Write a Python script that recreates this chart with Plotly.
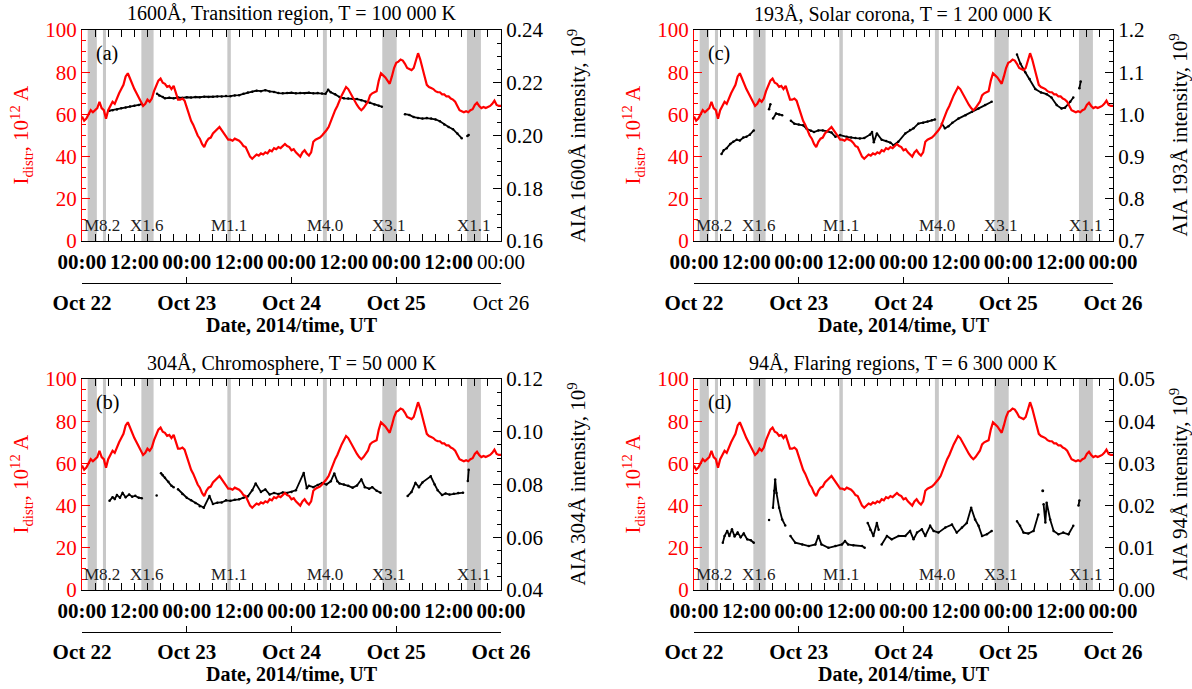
import plotly.graph_objects as go

# ---------------- data ----------------
hours = [i / 2 for i in range(193)]  # half-hour grid, hours since 2014-10-22 00:00 UT
i_distr = [59, 57, 58, 60, 62, 61, 62, 63, 66, 63,
           62, 58, 62, 64, 66, 65, 68, 70, 72, 74,
           78, 79.5, 77, 74, 72, 70, 68, 66, 64, 65,
           67, 66, 67.5, 71, 74, 76, 77, 75, 74.5, 73,
           73.5, 72, 73.5, 70, 67, 67, 67.5, 66.5, 63, 60,
           57, 55, 52, 50, 48.5, 46, 44.5, 47, 48.5, 49,
           51, 52, 53, 54, 52.5, 51, 49, 48, 48, 47.5,
           48.5, 48, 47.5, 46.5, 45, 44.5, 42, 40, 39, 40,
           41, 40.5, 41.5, 41, 42, 41.5, 43, 42.5, 44, 43.5,
           44.5, 44, 45, 46, 45, 44.5, 43, 43.5, 42, 41,
           40, 42, 43, 41.5, 40.5, 42, 47, 48, 48.5, 49,
           50, 51, 52.5, 54, 57, 59.5, 62, 64, 67, 69,
           71, 73, 72, 70, 68, 66, 64.5, 63, 62, 63,
           64.5, 66, 69, 70, 70.5, 71, 76, 79.5, 78.5, 77.5,
           76, 74.5, 78, 82, 84.5, 85, 86, 85.5, 84, 82,
           81.5, 81, 82, 86, 89, 86, 82.5, 78, 74, 73,
           72.5, 72, 71, 70.5, 70.5, 69.5, 69.5, 68.5, 68.5, 67.5,
           67, 66, 64, 62, 61.5, 61, 61.5, 61, 62, 62.5,
           64.5, 65.5, 64, 63, 63.5, 63, 63.5, 64, 65, 66.5,
           64.5, 64, 64]

t_1600 = [6.3, 7, 8, 9, 10, 11, 12, 13, 13.7, 15, 17.2, 17.7, 18.5, 19, 20, 21, 22, 23, 24, 25,
          26, 27, 28, 29, 30, 31, 32, 33, 34, 35, 36, 37, 38, 39, 40, 41, 42, 43, 44, 45,
          46, 47, 48, 49, 50, 51, 52, 53, 54, 55, 55.8, 56.4, 57, 58, 59, 60, 61, 62, 63, 64,
          65, 66, 67, 68, 68.7, 71, 74, 75, 76, 77, 78, 79, 80, 81, 82, 83, 84, 85, 86, 87,
          87.8, 88.3, 88.6]
v_1600 = [0.2094, 0.2096, 0.2099, 0.2103, 0.2106, 0.2110, 0.2113, 0.2116, 0.2119, None,
          0.2158, 0.2152, 0.2146, 0.2141, 0.2143, 0.2141, 0.2144, 0.2143, 0.2145, 0.2144,
          0.2146, 0.2145, 0.2147, 0.2146, 0.2147, 0.2148, 0.2148, 0.2150, 0.2149, 0.2152,
          0.2153, 0.2158, 0.2163, 0.2166, 0.2170, 0.2168, 0.2172, 0.2167, 0.2165, 0.2161,
          0.2160, 0.2161, 0.2162, 0.2160, 0.2161, 0.2160, 0.2162, 0.2160, 0.2161, 0.2159,
          0.2158, 0.2173, 0.2164, 0.2156, 0.2146, 0.2141, 0.2140, 0.2139, 0.2138, 0.2134,
          0.2128, 0.2124, 0.2118, 0.2113, 0.2109, None, 0.2081, 0.2078, 0.2070, 0.2066,
          0.2064, 0.2066, 0.2064, 0.2061, 0.2054, 0.2042, 0.2032, 0.2024, 0.2008, 0.1990,
          None, 0.1998, 0.2002]

t_304 = [6.3, 7, 7.5, 8, 8.7, 9.3, 10, 10.8, 11.5, 12.2, 13, 13.7, 15, 17.1, 17.5, 18.1, 18.5,
         19, 19.8, 20.5, 21, 21.5, 22, 23, 24, 25, 26, 27, 27.9, 29.2, 30, 31, 32, 33, 34, 35,
         36, 37, 38, 39, 39.8, 41, 42, 43, 44, 45, 46, 47, 48, 49, 50.8, 51.5, 52, 53, 54,
         55, 56, 57, 57.8, 58.5, 59, 60, 61, 62, 63, 64, 64.8, 65.8, 66.5, 67.5, 68.4, 71,
         74.6, 75.5, 76.4, 77.2, 78, 79.9, 80.8, 81.5, 82.5, 83.3, 84.2, 85.2, 86.2, 87.3,
         87.9, 88.4, 88.6]
v_304 = [0.0738, 0.0752, 0.0745, 0.0760, 0.0750, 0.0768, 0.0752, 0.0762, 0.0754, 0.0757,
         0.0750, 0.0748, None, 0.0758, None, 0.0843, 0.0835, 0.0826, 0.0810, 0.0795,
         0.0790, None, 0.0782, 0.0764, 0.0750, 0.0740, 0.0730, 0.0718, 0.0712, 0.0756,
         0.0726, 0.0731, 0.0732, 0.0740, 0.0738, 0.0742, 0.0744, 0.0750, 0.0755, 0.0778,
         0.0804, 0.0772, 0.0781, 0.0762, 0.0768, 0.0764, 0.0770, 0.0768, 0.0772, 0.0778,
         0.0844, 0.0786, 0.0795, 0.0790, 0.0798, 0.0806, 0.0800, 0.0812, 0.0842, 0.0812,
         0.0804, 0.0800, 0.0795, 0.0788, 0.0796, 0.0819, 0.0790, 0.0784, 0.0790, 0.0776,
         0.0769, None, 0.0756, 0.0772, 0.0806, 0.0790, 0.0808, 0.0831, 0.0800, 0.0778,
         0.0760, 0.0766, 0.0762, 0.0765, 0.0768, 0.0769, None, 0.0813, 0.0856]

t_193 = [6.3, 6.8, 7.5, 8.3, 9, 9.8, 10.5, 11.3, 12, 12.8, 13.7, 15, 17.2, 17.5, 17.8, 18.1,
         18.8, 19.5, 20.2, 21, 22.2, 23, 24, 25, 25.8, 26.8, 27.5, 28.5, 29.5, 30.5, 31.5,
         32.4, 33.5, 35, 36, 37, 38, 39, 40.3, 40.8, 41.2, 41.9, 43, 44, 45, 45.7, 46.8, 48.4,
         49.5, 50.3, 51.4, 52.5, 53.5, 54.5, 55.2, 56, 56.8, 57.5, 58.3, 59.2, 60.6, 62.2,
         63.7, 65.2, 66.7, 68.2, 71, 74, 74.8, 75.9, 76.9, 78.2, 79.5, 80.8, 81.9, 83.1, 84.2,
         85, 86.2, 86.9, 87.5, 88.3, 88.6]
v_193 = [0.906, 0.915, 0.920, 0.930, 0.935, 0.940, 0.938, 0.945, 0.947, 0.952, 0.962, None,
         1.012, 1.024, None, 0.990, 1.002, 1.000, 0.998, None, 0.985, 0.978, 0.976, 0.974,
         0.966, 0.961, 0.958, 0.962, 0.962, 0.960, 0.957, 0.947, 0.951, 0.947, 0.945, 0.944,
         0.943, 0.944, 0.952, 0.958, 0.934, 0.955, 0.940, 0.937, 0.933, 0.927, 0.935, 0.955,
         0.963, 0.967, 0.978, 0.980, 0.983, 0.986, 0.988, None, 0.978, 0.967, 0.972, 0.980,
         0.990, 0.998, 1.006, 1.014, 1.022, 1.030, None, 1.142, 1.120, 1.100, 1.084, 1.060,
         1.052, 1.048, 1.040, 1.022, 1.014, 1.016, 1.030, 1.040, None, 1.062, 1.078]

t_94 = [6.6, 7, 7.6, 8.1, 8.7, 9.3, 10, 10.7, 11.4, 12.2, 13, 13.7, 15, 17.2, 17.6, 18.1, 18.4,
        18.6, 18.9, 19.5, 20.2, 20.9, 21.5, 22.1, 23.2, 24.8, 26.3, 27.8, 28.5, 29.2, 30.8,
        32.4, 33.9, 34.6, 35.3, 36.5, 38.5, 39.1, 39.5, 39.8, 40.4, 41.1, 41.9, 42.3, 42.6,
        43, 44.2, 45.3, 46.9, 48.4, 49.5, 50.3, 51.1, 52.2, 53, 54.1, 54.9, 56, 57.6, 59.1,
        60.2, 61.4, 62.5, 63.5, 64.4, 65.2, 66, 67.1, 68.2, 71, 74, 74.7, 75.5, 76.6, 77.8,
        78.9, 79.6, 80.1, 80.5, 80.8, 81.6, 82.4, 83.5, 84.6, 85.8, 86.9, 87.5, 88.1, 88.3]
v_94 = [0.0112, 0.0128, 0.0140, 0.0128, 0.0144, 0.0127, 0.0136, 0.0125, 0.0134, 0.0120,
        0.0118, 0.0112, None, 0.0166, None, 0.0195, 0.0235, 0.0262, 0.0230, 0.0195, 0.0167,
        0.0153, None, 0.0128, 0.0112, 0.0108, 0.0104, 0.0108, 0.0128, 0.0108, 0.0100,
        0.0104, 0.0108, 0.0116, 0.0108, 0.0106, 0.0104, 0.0100, None, 0.0159, 0.0143,
        0.0128, 0.0159, 0.0143, None, 0.0108, 0.0128, 0.0120, 0.0128, 0.0128, 0.0140,
        0.0120, 0.0136, 0.0144, 0.0128, 0.0152, 0.0140, 0.0136, 0.0148, 0.0155, 0.0136,
        0.0148, 0.0159, 0.0195, 0.0167, 0.0152, 0.0128, 0.0132, 0.0140, None, 0.0163,
        0.0152, 0.0136, 0.0134, 0.0140, 0.0179, None, 0.0203, 0.0160, 0.0207, 0.0167,
        0.0140, 0.0132, 0.0136, 0.0132, 0.0152, None, 0.0200, 0.0212]
t_94_dot = [79.9]
v_94_dot = [0.0235]

flare_start = [1.3, 4.8, 13.6, 33.3, 55.2, 68.8, 88.2]
flare_end = [3.4, 5.5, 16.4, 34.1, 56.1, 72.1, 91.4]
flare_names = ["M8.2", "X1.6", "M1.1", "M4.0", "X3.1", "X1.1"]
flare_label_band = [0, 2, 3, 4, 5, 6]

tick_hours = [0, 12, 24, 36, 48, 60, 72, 84, 96]
tick_labels = ["00:00", "12:00", "00:00", "12:00", "00:00", "12:00", "00:00", "12:00", "00:00"]
day_hours = [0, 24, 48, 72, 96]
day_labels = ["Oct 22", "Oct 23", "Oct 24", "Oct 25", "Oct 26"]

# ---------------- layout helpers ----------------
FONT = "Liberation Serif"
WF, HF = 1192, 689
RED = "#ff0000"
BAND = "#c8c8c8"


def fx(px):
    return px / WF


def fy(py):
    return 1 - py / HF


def ax(letter, n):
    return letter if n == 1 else "%s%d" % (letter, n)


def lkey(letter, n):
    return letter + "axis" + ("" if n == 1 else str(n))


panels = [
    dict(letter="(a)", title="1600Å, Transition region, T = 100 000 K",
         ytitle="AIA 1600Å intensity, 10<sup>9</sup>", t=t_1600, v=v_1600, extra=None,
         yr=[0.16, 0.24], dtick=0.02, mdt=0.005, fmt=".2f",
         px=(82, 501), py=(30, 241), tx=577, last_plain=True),
    dict(letter="(c)", title="193Å, Solar corona, T = 1 200 000 K",
         ytitle="AIA 193Å intensity, 10<sup>9</sup>", t=t_193, v=v_193, extra=None,
         yr=[0.7, 1.2], dtick=0.1, mdt=0.025, fmt=".1f",
         px=(694, 1113), py=(30, 241), tx=1179, last_plain=False),
    dict(letter="(b)", title="304Å, Chromosphere, T = 50 000 K",
         ytitle="AIA 304Å intensity, 10<sup>9</sup>", t=t_304, v=v_304, extra=None,
         yr=[0.04, 0.12], dtick=0.02, mdt=0.005, fmt=".2f",
         px=(82, 501), py=(379, 590), tx=577, last_plain=False),
    dict(letter="(d)", title="94Å, Flaring regions, T = 6 300 000 K",
         ytitle="AIA 94Å intensity, 10<sup>9</sup>", t=t_94, v=v_94, extra=(t_94_dot, v_94_dot),
         yr=[0.0, 0.05], dtick=0.01, mdt=0.0025, fmt=".2f",
         px=(694, 1113), py=(379, 590), tx=1179, last_plain=False),
]

fig = go.Figure()
layout = dict(width=WF, height=HF, autosize=False,
              margin=dict(l=0, r=0, t=0, b=0, pad=0, autoexpand=False),
              paper_bgcolor="white", plot_bgcolor="white", showlegend=False,
              font=dict(family=FONT, color="black"))
shapes, annotations = [], []

for k, p in enumerate(panels, start=1):
    xa, ya = ax("x", k), ax("y", k)
    ya_red, xa_day = ax("y", k + 4), ax("x", k + 4)
    xd = [fx(p["px"][0]), fx(p["px"][1])]
    yd = [fy(p["py"][1]), fy(p["py"][0])]
    xc = (xd[0] + xd[1]) / 2
    yc = (yd[0] + yd[1]) / 2
    ttext = ["<b>%s</b>" % s for s in tick_labels]
    dtext = ["<b>%s</b>" % s for s in day_labels]
    if p["last_plain"]:
        ttext[-1] = tick_labels[-1]
        dtext[-1] = day_labels[-1]

    layout[lkey("x", k)] = dict(
        domain=xd, anchor=ya, range=[0, 96], tickmode="array", automargin=False,
        tickvals=tick_hours, ticktext=ttext, ticks="inside", ticklen=7, tickcolor="black",
        showline=True, linecolor="black", linewidth=1, mirror="allticks",
        showgrid=False, zeroline=False, tickfont=dict(family=FONT, size=21, color="black"),
        ticklabelstandoff=2,
        minor=dict(tickmode="linear", tick0=0, dtick=3, ticks="inside", ticklen=4,
                   tickcolor="black", showgrid=False))
    layout[lkey("y", k)] = dict(
        domain=yd, anchor=xa, side="right", range=p["yr"], tickmode="linear",
        automargin=False,
        tick0=p["yr"][0], dtick=p["dtick"], tickformat=p["fmt"], ticks="inside", ticklen=8,
        tickcolor="black", showline=True, linecolor="black", linewidth=1,
        showgrid=False, zeroline=False, tickfont=dict(family=FONT, size=21, color="black"),
        minor=dict(tickmode="linear", tick0=p["yr"][0], dtick=p["mdt"], ticks="inside",
                   ticklen=4, tickcolor="black", showgrid=False))
    layout[lkey("y", k + 4)] = dict(
        overlaying=ya, anchor=xa, side="left", range=[0, 100], automargin=False,
        tickmode="linear", tick0=0, dtick=20, ticks="inside", ticklen=8, tickcolor=RED,
        showline=True, linecolor=RED, linewidth=1, showgrid=False, zeroline=False,
        tickfont=dict(family=FONT, size=21, color=RED),
        minor=dict(tickmode="linear", tick0=0, dtick=5, ticks="inside", ticklen=4,
                   tickcolor=RED, showgrid=False))
    layout[lkey("x", k + 4)] = dict(
        overlaying=xa, anchor="free", position=fy(p["py"][1] + 42), automargin=False,
        side="bottom", range=[0, 96], tickmode="array", tickvals=day_hours, ticktext=dtext,
        ticks="inside", ticklen=6, tickcolor="black", showline=True, linecolor="black",
        linewidth=1, showgrid=False, zeroline=False, ticklabelstandoff=1,
        tickfont=dict(family=FONT, size=21, color="black"))

    # flare bands
    for s, e in zip(flare_start, flare_end):
        shapes.append(dict(type="rect", xref=xa, yref=ya + " domain",
                           x0=s, x1=e, y0=0, y1=1, fillcolor=BAND, line=dict(width=0),
                           layer="below"))
    # flare labels
    for name, bi in zip(flare_names, flare_label_band):
        cx = (flare_start[bi] + flare_end[bi]) / 2
        first = bi == 0
        annotations.append(dict(text=name, xref=xa, yref=ya_red,
                                x=0 if first else cx, y=7.3, xanchor="left" if first else "center",
                                yanchor="middle", showarrow=False,
                                font=dict(family=FONT, size=17, color="#222222")))

    # black AIA curve
    fig.add_trace(go.Scatter(x=p["t"], y=p["v"], xaxis=xa, yaxis=ya,
                             mode="lines+markers", line=dict(color="black", width=1.8),
                             marker=dict(color="black", size=2.5), connectgaps=False,
                             hoverinfo="skip"))
    if p["extra"]:
        fig.add_trace(go.Scatter(x=p["extra"][0], y=p["extra"][1], xaxis=xa,
                                 yaxis=ya, mode="markers",
                                 marker=dict(color="black", size=3), hoverinfo="skip"))
    # red I_distr curve
    fig.add_trace(go.Scatter(x=hours, y=i_distr, xaxis=xa, yaxis=ya_red,
                             mode="lines", line=dict(color=RED, width=2.2), hoverinfo="skip"))
    # carrier for the date axis
    fig.add_trace(go.Scatter(x=[0, 96], y=[None, None], xaxis=xa_day,
                             yaxis=ya, mode="lines", hoverinfo="skip"))

    # texts
    annotations.append(dict(text=p["title"], xref="paper", yref="paper", x=xc,
                            y=fy(p["py"][0] - 16), xanchor="center", yanchor="middle",
                            showarrow=False, font=dict(family=FONT, size=20, color="black")))
    annotations.append(dict(text=p["letter"], xref=xa + " domain", yref=ya + " domain",
                            x=0.028, y=0.89, xanchor="left", yanchor="middle", showarrow=False,
                            font=dict(family=FONT, size=20, color="black")))
    annotations.append(dict(text="<b>Date, 2014/time, UT</b>", xref="paper", yref="paper",
                            x=xc, y=fy(p["py"][1] + 84), xanchor="center",
                            yanchor="middle", showarrow=False,
                            font=dict(family=FONT, size=20, color="black")))
    annotations.append(dict(text="I<sub>distr</sub>, 10<sup>12</sup> A", xref="paper",
                            yref="paper", x=fx(p["px"][0] - 61), y=yc, xanchor="center",
                            yanchor="middle", textangle=-90, showarrow=False,
                            font=dict(family=FONT, size=21, color=RED)))
    annotations.append(dict(text=p["ytitle"], xref="paper", yref="paper", x=fx(p["tx"]),
                            y=yc, xanchor="center", yanchor="middle", textangle=-90,
                            showarrow=False, font=dict(family=FONT, size=21, color="black")))

layout["shapes"] = shapes
layout["annotations"] = annotations
fig.update_layout(**layout)
# the html page's body has a default 8px margin; remove it so the figure fills the window
fig.write_html("out.html", config={"displayModeBar": False},
               post_script="document.body.style.margin='0px';")
